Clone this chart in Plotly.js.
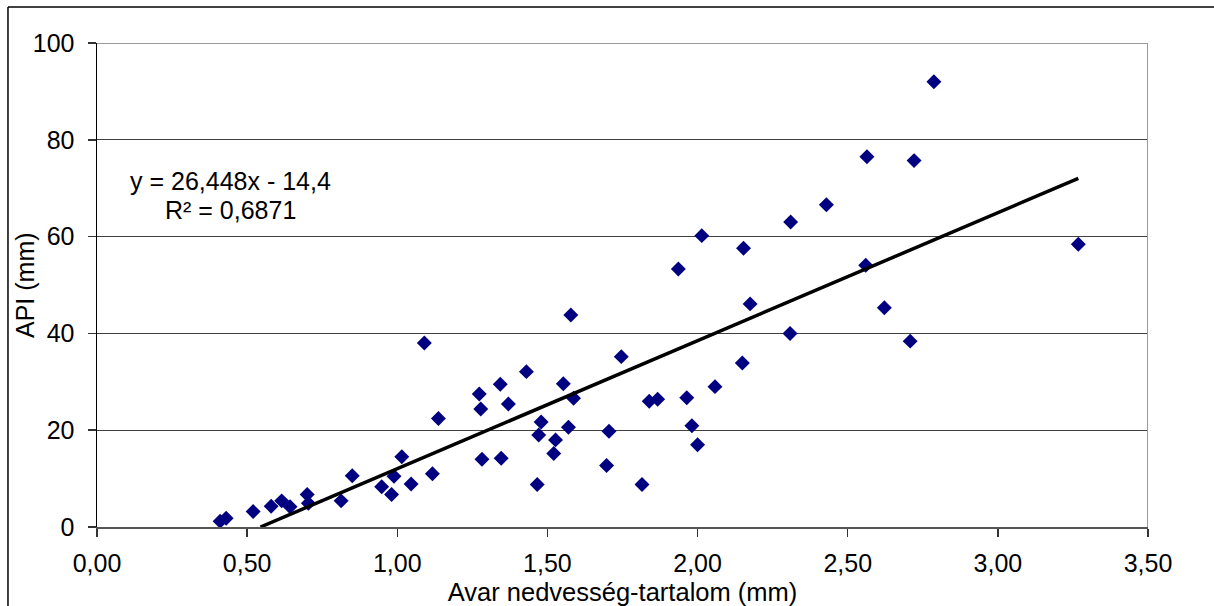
<!DOCTYPE html>
<html>
<head>
<meta charset="utf-8">
<script src="https://cdn.plot.ly/plotly-3.0.1.min.js"></script>
<style>html,body{margin:0;padding:0;background:#fff;}#chart{width:1214px;height:606px;}</style>
</head>
<body>
<div id="chart"></div>
<script>
// Avar nedvesség-tartalom (mm)
const litterMoisture = [0.41,0.43,0.52,0.58,0.615,0.643,0.700,0.704,0.813,0.850,0.948,0.981,0.989,1.015,1.046,1.090,1.117,1.137,1.273,1.278,1.282,1.343,1.346,1.370,1.430,1.466,1.471,1.479,1.521,1.527,1.553,1.570,1.578,1.587,1.697,1.705,1.746,1.815,1.839,1.867,1.936,1.964,1.981,2.000,2.014,2.058,2.149,2.153,2.175,2.308,2.310,2.429,2.560,2.564,2.622,2.708,2.721,2.787,3.268];
// API (mm)
const apiValues = [1.2,1.8,3.2,4.3,5.4,4.2,6.7,4.9,5.4,10.6,8.3,6.7,10.5,14.5,8.9,38.0,11.0,22.4,27.5,24.4,14.0,29.5,14.2,25.4,32.1,8.8,19.0,21.7,15.2,18.0,29.6,20.6,43.8,26.6,12.7,19.8,35.2,8.8,26.0,26.4,53.3,26.7,20.9,17.0,60.2,29.0,33.9,57.6,46.1,40.0,63.0,66.6,54.1,76.5,45.3,38.4,75.7,92.0,58.4];
// linear trend (as printed on the chart)
const trendSlope = [26.448];
const trendIntercept = [-14.4];
const trendLabel = ["y = 26,448x - 14,4", "R² = 0,6871"];
const xTitle = ["Avar nedvesség-tartalom (mm)"];
const yTitle = ["API (mm)"];
const xTickVals = [0,0.5,1,1.5,2,2.5,3,3.5];
const yTickVals = [0,20,40,60,80,100];

const xStart = -trendIntercept[0] / trendSlope[0];
const xEnd = Math.max(...litterMoisture);
const trendX = [xStart, xEnd];
const trendY = trendX.map(v => trendSlope[0] * v + trendIntercept[0]);

const FONT = 'Liberation Sans, Arial, sans-serif';
const FS = 25;

const data = [
  {
    x: litterMoisture, y: apiValues, type: 'scatter', mode: 'markers',
    marker: {symbol: 'diamond', size: 11.5, color: '#000080', line: {width: 0}},
    cliponaxis: false, hoverinfo: 'x+y'
  },
  {
    x: trendX, y: trendY, type: 'scatter', mode: 'lines',
    line: {color: '#000000', width: 3.5}, hoverinfo: 'skip'
  }
];

const layout = {
  width: 1214, height: 606,
  margin: {l: 97, r: 66, t: 43, b: 79, pad: 0},
  paper_bgcolor: '#ffffff', plot_bgcolor: '#ffffff',
  showlegend: false,
  separators: ', ',
  font: {family: FONT, size: FS, color: '#000000'},
  xaxis: {
    range: [0, 3.5], tickvals: xTickVals, tickformat: '.2f',
    showgrid: false, zeroline: false,
    showline: true, linecolor: '#555555', linewidth: 2,
    ticks: 'outside', ticklen: 8, tickwidth: 1.5, tickcolor: '#333333',
    tickfont: {family: FONT, size: FS, color: '#000'},
    ticklabelstandoff: 5,
    title: {text: xTitle[0], font: {family: FONT, size: FS + 0.5, color: '#000'}, standoff: 8},
    fixedrange: true
  },
  yaxis: {
    range: [0, 100], tickvals: yTickVals,
    showgrid: true, gridcolor: '#404040', gridwidth: 1,
    zeroline: false,
    showline: true, linecolor: '#000000', linewidth: 1.5,
    ticks: 'outside', ticklen: 8, tickwidth: 1.5, tickcolor: '#333333',
    tickfont: {family: FONT, size: FS, color: '#000'},
    ticklabelstandoff: 8,
    fixedrange: true
  },
  shapes: [
    {type: 'line', xref: 'x', yref: 'y', x0: 0, x1: 3.5, y0: 100, y1: 100, line: {color: '#999999', width: 2}, layer: 'above'},
    {type: 'line', xref: 'x', yref: 'y', x0: 3.5, x1: 3.5, y0: 0, y1: 100, line: {color: '#999999', width: 2}, layer: 'above'},
    {type: 'line', xref: 'paper', yref: 'paper', x0: -0.0847, x1: 1.2, y0: 1.0744, y1: 1.0744, line: {color: '#000000', width: 1.5}},
    {type: 'line', xref: 'paper', yref: 'paper', x0: -0.0847, x1: -0.0847, y0: 1.0744, y1: -0.3, line: {color: '#000000', width: 1.5}}
  ],
  annotations: [
    {xref: 'x', yref: 'y', x: 0.443, y: 71.4, text: trendLabel[0], showarrow: false, xanchor: 'center', yanchor: 'middle', font: {family: FONT, size: FS, color: '#000'}},
    {xref: 'x', yref: 'y', x: 0.443, y: 65.6, text: trendLabel[1], showarrow: false, xanchor: 'center', yanchor: 'middle', font: {family: FONT, size: FS, color: '#000'}},
    {xref: 'paper', yref: 'paper', x: -0.0685, y: 0.5, text: yTitle[0], textangle: -90, showarrow: false, xanchor: 'center', yanchor: 'middle', font: {family: FONT, size: FS, color: '#000'}}
  ]
};

Plotly.newPlot('chart', data, layout, {staticPlot: true, displayModeBar: false});
</script>
</body>
</html>
